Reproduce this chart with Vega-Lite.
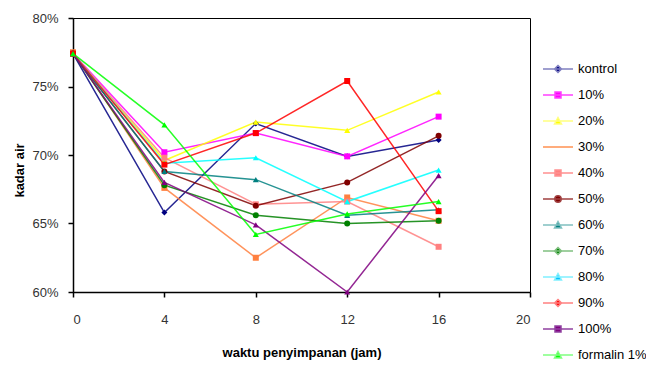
{
  "$schema": "https://vega.github.io/schema/vega-lite/v6.json",
  "width": 457,
  "height": 274,
  "autosize": {"type": "none"},
  "padding": {"left": 73, "top": 18, "right": 116, "bottom": 73},
  "background": "white",
  "config": {
    "font": "Liberation Sans",
    "view": {"stroke": "#000", "strokeWidth": 1},
    "legend": {"rowPadding": 8},
    "axis": {
      "domainColor": "#000",
      "domainWidth": 1.5,
      "tickColor": "#000",
      "tickWidth": 1.5,
      "tickSize": 5,
      "grid": false,
      "labelFontSize": 13,
      "labelColor": "#333",
      "titleFontSize": 13,
      "titleFontWeight": "bold",
      "titleColor": "#000"
    }
  },
  "data": {
    "values": [
      {"series": "kontrol", "t": 0, "v": 0.774}, {"series": "kontrol", "t": 4, "v": 0.658}, {"series": "kontrol", "t": 8, "v": 0.723}, {"series": "kontrol", "t": 12, "v": 0.699}, {"series": "kontrol", "t": 16, "v": 0.711},
      {"series": "10%", "t": 0, "v": 0.774}, {"series": "10%", "t": 4, "v": 0.702}, {"series": "10%", "t": 8, "v": 0.716}, {"series": "10%", "t": 12, "v": 0.699}, {"series": "10%", "t": 16, "v": 0.728},
      {"series": "20%", "t": 0, "v": 0.774}, {"series": "20%", "t": 4, "v": 0.696}, {"series": "20%", "t": 8, "v": 0.724}, {"series": "20%", "t": 12, "v": 0.718}, {"series": "20%", "t": 16, "v": 0.746},
      {"series": "30%", "t": 0, "v": 0.775}, {"series": "30%", "t": 4, "v": 0.676}, {"series": "30%", "t": 8, "v": 0.625}, {"series": "30%", "t": 12, "v": 0.669}, {"series": "30%", "t": 16, "v": 0.652},
      {"series": "40%", "t": 0, "v": 0.774}, {"series": "40%", "t": 4, "v": 0.698}, {"series": "40%", "t": 8, "v": 0.664}, {"series": "40%", "t": 12, "v": 0.666}, {"series": "40%", "t": 16, "v": 0.633},
      {"series": "50%", "t": 0, "v": 0.774}, {"series": "50%", "t": 4, "v": 0.688}, {"series": "50%", "t": 8, "v": 0.663}, {"series": "50%", "t": 12, "v": 0.680}, {"series": "50%", "t": 16, "v": 0.714},
      {"series": "60%", "t": 0, "v": 0.774}, {"series": "60%", "t": 4, "v": 0.688}, {"series": "60%", "t": 8, "v": 0.682}, {"series": "60%", "t": 12, "v": 0.656}, {"series": "60%", "t": 16, "v": 0.660},
      {"series": "70%", "t": 0, "v": 0.774}, {"series": "70%", "t": 4, "v": 0.678}, {"series": "70%", "t": 8, "v": 0.656}, {"series": "70%", "t": 12, "v": 0.650}, {"series": "70%", "t": 16, "v": 0.652},
      {"series": "80%", "t": 0, "v": 0.774}, {"series": "80%", "t": 4, "v": 0.694}, {"series": "80%", "t": 8, "v": 0.698}, {"series": "80%", "t": 12, "v": 0.666}, {"series": "80%", "t": 16, "v": 0.689},
      {"series": "90%", "t": 0, "v": 0.774}, {"series": "90%", "t": 4, "v": 0.693}, {"series": "90%", "t": 8, "v": 0.716}, {"series": "90%", "t": 12, "v": 0.754}, {"series": "90%", "t": 16, "v": 0.659},
      {"series": "100%", "t": 0, "v": 0.774}, {"series": "100%", "t": 4, "v": 0.680}, {"series": "100%", "t": 8, "v": 0.649}, {"series": "100%", "t": 12, "v": 0.600}, {"series": "100%", "t": 16, "v": 0.685},
      {"series": "formalin 1%", "t": 0, "v": 0.774}, {"series": "formalin 1%", "t": 4, "v": 0.722}, {"series": "formalin 1%", "t": 8, "v": 0.642}, {"series": "formalin 1%", "t": 12, "v": 0.657}, {"series": "formalin 1%", "t": 16, "v": 0.666}
    ]
  },
  "encoding": {
    "x": {
      "field": "t", "type": "quantitative",
      "scale": {"domain": [0, 20], "nice": false},
      "axis": {"values": [0, 4, 8, 12, 16, 20], "title": "waktu penyimpanan (jam)", "labelPadding": 16, "titleY": 60, "titleBaseline": "middle"}
    },
    "y": {
      "field": "v", "type": "quantitative",
      "scale": {"domain": [0.6, 0.8], "nice": false, "zero": false},
      "axis": {"values": [0.6, 0.65, 0.7, 0.75, 0.8], "format": ".0%", "title": "kadar air", "labelPadding": 10, "titleX": -54, "titleY": 152, "titleBaseline": "middle"}
    }
  },
  "layer": [
    {
      "mark": {"type": "line", "strokeWidth": 1.5, "opacity": 0.85},
      "encoding": {
        "color": {
          "field": "series", "type": "nominal", "legend": null,
          "scale": {
            "domain": ["kontrol", "10%", "20%", "30%", "40%", "50%", "60%", "70%", "80%", "90%", "100%", "formalin 1%"],
            "range": ["#000080", "#FF00FF", "#FFFF00", "#FF8040", "#FF8080", "#800000", "#008080", "#008000", "#00FFFF", "#FF0000", "#800080", "#00FF00"]
          }
        }
      }
    },
    {
      "mark": {"type": "point", "filled": true, "size": 36, "opacity": 1},
      "encoding": {
        "color": {"field": "series", "type": "nominal", "legend": null},
        "shape": {
          "field": "series", "type": "nominal", "legend": null,
          "scale": {
            "domain": ["kontrol", "10%", "20%", "30%", "40%", "50%", "60%", "70%", "80%", "90%", "100%", "formalin 1%"],
            "range": ["diamond", "square", "triangle-up", "square", "square", "circle", "triangle-up", "circle", "triangle-up", "square", "triangle-up", "triangle-up"]
          }
        }
      }
    },
    {
      "transform": [{"filter": "false"}],
      "mark": {"type": "point", "filled": true, "size": 400, "strokeWidth": 1.5, "opacity": 1},
      "encoding": {
        "fill": {
          "field": "series", "type": "nominal",
          "scale": {
            "domain": ["kontrol", "10%", "20%", "30%", "40%", "50%", "60%", "70%", "80%", "90%", "100%", "formalin 1%"],
            "range": ["#000080", "#FF00FF", "#FFFF00", "#FF8040", "#FF8080", "#800000", "#008080", "#008000", "#00BFFF", "#FF0000", "#800080", "#00FF00"]
          },
          "legend": {"title": null, "orient": "none", "legendX": 474, "legendY": 40, "labelFontSize": 13, "labelColor": "#000", "labelOffset": 9, "rowPadding": 8, "padding": 0, "symbolSize": 400, "symbolStrokeWidth": 1.5}
        },
        "stroke": {
          "field": "series", "type": "nominal",
          "scale": {
            "domain": ["kontrol", "10%", "20%", "30%", "40%", "50%", "60%", "70%", "80%", "90%", "100%", "formalin 1%"],
            "range": ["#8080C0", "#FF40FF", "#FFFF80", "#FF9050", "#FF9090", "#A04040", "#80C0C0", "#80C080", "#80F0FF", "#FF8080", "#9040A0", "#80FF80"]
          },
          "legend": {"title": null, "orient": "none", "legendX": 474, "legendY": 40, "labelFontSize": 13, "labelColor": "#000", "labelOffset": 9, "rowPadding": 8, "padding": 0, "symbolSize": 400, "symbolStrokeWidth": 1.5}
        },
        "shape": {
          "field": "series", "type": "nominal",
          "scale": {
            "domain": ["kontrol", "10%", "20%", "30%", "40%", "50%", "60%", "70%", "80%", "90%", "100%", "formalin 1%"],
            "range": [
              "M-1.5,0H1.5M0,-0.35L0.35,0L0,0.35L-0.35,0Z",
              "M-1.5,0H1.5M-0.3,-0.3H0.3V0.3H-0.3Z",
              "M-1.5,0H1.5M0,-0.35L0.35,0.3H-0.35Z",
              "M-1.5,0H1.5",
              "M-1.5,0H1.5M-0.3,-0.3H0.3V0.3H-0.3Z",
              "M-1.5,0H1.5M-0.32,0A0.32,0.32 0 1,0 0.32,0A0.32,0.32 0 1,0 -0.32,0Z",
              "M-1.5,0H1.5M0,-0.35L0.35,0.3H-0.35Z",
              "M-1.5,0H1.5M0,-0.35L0.35,0L0,0.35L-0.35,0Z",
              "M-1.5,0H1.5M0,-0.35L0.35,0.3H-0.35Z",
              "M-1.5,0H1.5M0,-0.35L0.35,0L0,0.35L-0.35,0Z",
              "M-1.5,0H1.5M-0.3,-0.3H0.3V0.3H-0.3Z",
              "M-1.5,0H1.5M0,-0.35L0.35,0.3H-0.35Z"
            ]
          },
          "legend": {"title": null, "orient": "none", "legendX": 474, "legendY": 40, "labelFontSize": 13, "labelColor": "#000", "labelOffset": 9, "rowPadding": 8, "padding": 0, "symbolSize": 400, "symbolStrokeWidth": 1.5}
        }
      }
    }
  ],
  "resolve": {"scale": {"shape": "independent", "fill": "independent", "stroke": "independent"}}
}
